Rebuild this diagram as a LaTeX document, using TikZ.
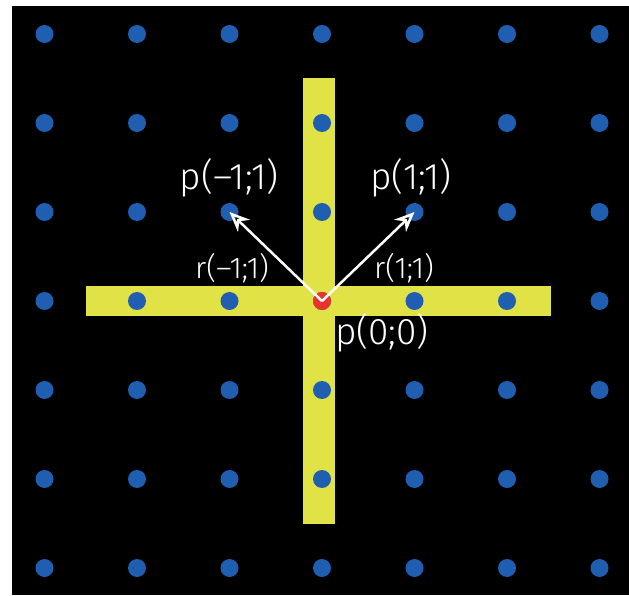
\documentclass[tikz,border=0pt]{standalone}
\usepackage{fontspec}
\setmainfont{Fira Sans Light}
\usepackage{tikz}
\usetikzlibrary{arrows.meta}
\definecolor{DotFill}{RGB}{31,94,176}
\definecolor{OrgFill}{RGB}{232,52,44}
\definecolor{BarFill}{RGB}{224,226,70}
\tikzset{
  nd_dot/.style={circle,fill=DotFill,minimum size=18pt,inner sep=0pt},
  nd_org/.style={circle,fill=OrgFill,minimum size=18pt,inner sep=0pt},
  lbl_p/.style={text=white,font=\fontsize{37}{37}\selectfont,inner sep=0pt},
  lbl_r/.style={text=white,font=\fontsize{30}{30}\selectfont,inner sep=0pt},
  arr/.style={-{Stealth[open,length=20pt,width=17pt]},white,line width=2.5pt},
}
\begin{document}
\begin{tikzpicture}[x=1pt,y=1pt]
\useasboundingbox (0,0) rectangle (629,595);
\fill[white](0,0) rectangle (629,595);
\fill[black](12,0) rectangle (629,589);
% bars
\fill[BarFill](303,71) rectangle (335,517);
\fill[BarFill](86,279) rectangle (551,309);
% lattice
\foreach \i in {-3,...,3}{
  \foreach \j in {-3,...,3}{
    \node[nd_dot] at (322+92.5*\i,294+89*\j)(d\i\j){};
  }
}
\node[nd_org] at (322,294)(O){};
% labels
\node[lbl_p] at (229,417)(Pl){p(–1;1)};
\node[lbl_p] at (411,417)(Pr){p(1;1)};
\node[lbl_r] at (232,327)(Rl){r(–1;1)};
\node[lbl_r] at (404,327)(Rr){r(1;1)};
\node[lbl_p] at (382,262)(P0){p(0;0)};
% arrows
\draw[arr](O.center)--(d-11.center);
\draw[arr](O.center)--(d11.center);
\end{tikzpicture}
\end{document}
